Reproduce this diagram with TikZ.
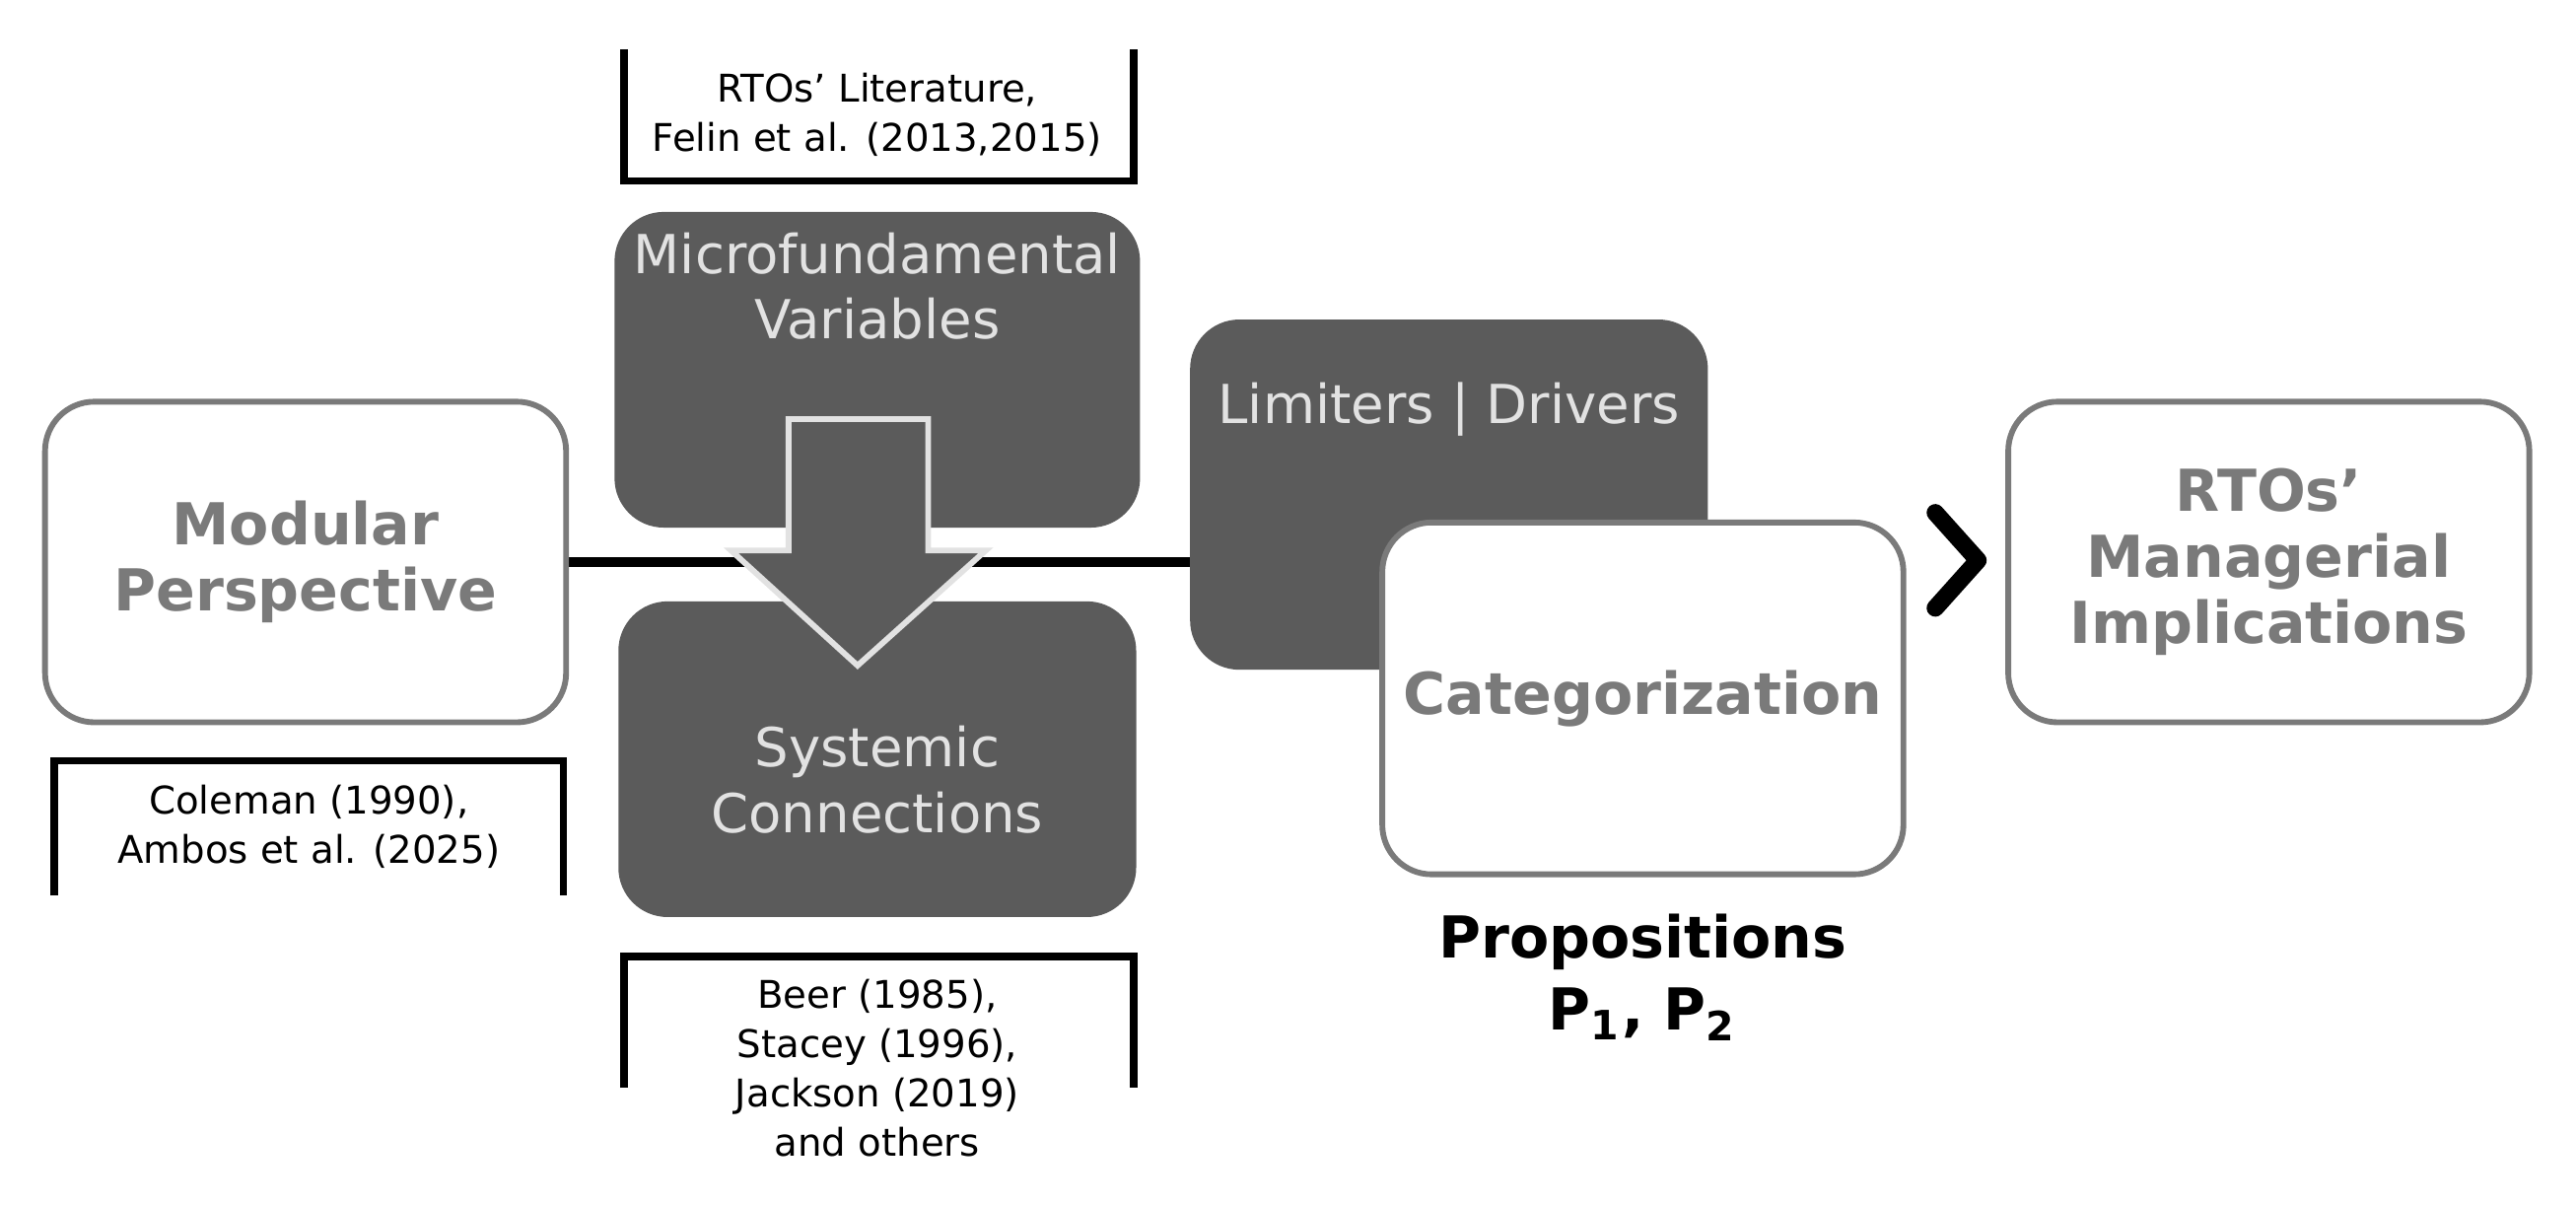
\documentclass[tikz,border=0pt]{standalone}
\usepackage{fontspec}
\setmainfont{DejaVu Sans}
\usetikzlibrary{positioning}
\definecolor{darkbox}{HTML}{5B5B5B}
\definecolor{lighttext}{HTML}{E2E2E2}
\definecolor{boxline}{HTML}{7A7A7A}
\begin{document}
\begin{tikzpicture}[x=0.01cm, y=-0.01cm,
  lightbox/.style={rectangle, draw=boxline, line width=1pt, fill=white, rounded corners=0.3cm, minimum width=3.17cm, minimum height=1.95cm, align=center, font=\fontsize{10}{11.5}\selectfont\bfseries, text=boxline},
  darkbox/.style={rectangle, fill=darkbox, rounded corners=0.3cm, minimum width=3.15cm, minimum height=1.92cm, align=center, font=\fontsize{9.3}{11.4}\selectfont, text=lighttext},
  bracket/.style={line width=1.3pt},
  note/.style={align=center, font=\fontsize{6.6}{8.5}\selectfont}
]
  \useasboundingbox (0,0) rectangle (1568,733);
  % main line
  \coordinate (lineL) at (345,342);
  \coordinate (lineR) at (728,342);
  \draw[line width=1.7pt] (lineL) -- (lineR);

  % boxes
  \node[lightbox] (modular) at (186,342) {Modular\\Perspective};
  \node[darkbox] (micro) at (534,225) {\raisebox{0pt}[0pt][0pt]{}Microfundamental\\Variables\\[1.9em]};
  \node[darkbox] (systemic) at (534,462) {\\[0.3em]Systemic\\Connections};
  \node[darkbox, minimum height=2.13cm] (limits) at (882,301) {Limiters | Drivers\\[2.2em]};
  \node[lightbox, minimum height=2.14cm] (categ) at (1000,425) {Categorization};
  \node[lightbox] (rtos) at (1381,342) {RTOs'\\Managerial\\Implications};

  % downward block arrow
  \draw[fill=darkbox, draw=lighttext, line width=1pt]
    (480,255) -- (565,255) -- (565,335) -- (600,335) -- (522,405)
    -- (445,335) -- (480,335) -- cycle;

  % chevron
  \coordinate (chevA) at (1178,312);
  \coordinate (chevB) at (1204,341);
  \coordinate (chevC) at (1178,370);
  \draw[line width=3pt, line cap=round, line join=round] (chevA) -- (chevB) -- (chevC);

  % literature brackets
  \draw[bracket] (380,30) -- (380,110) -- (690,110) -- (690,30);
  \node[note] (lit) at (534,70) {RTOs' Literature,\\Felin et al. (2013,2015)};
  \draw[bracket] (33,545) -- (33,463) -- (343,463) -- (343,545);
  \node[note] (coleman) at (188,503) {Coleman (1990),\\Ambos et al. (2025)};
  \draw[bracket] (380,662) -- (380,582) -- (690,582) -- (690,662);
  \node[note] (beer) at (534,650) {Beer (1985),\\Stacey (1996),\\Jackson (2019)\\and others};

  % propositions
  \node[align=center, font=\fontsize{10}{12.5}\selectfont\bfseries, below=0.1cm of categ] (props) {Propositions\\P$_{\mathbf{1}}$, P$_{\mathbf{2}}$};
\end{tikzpicture}
\end{document}
